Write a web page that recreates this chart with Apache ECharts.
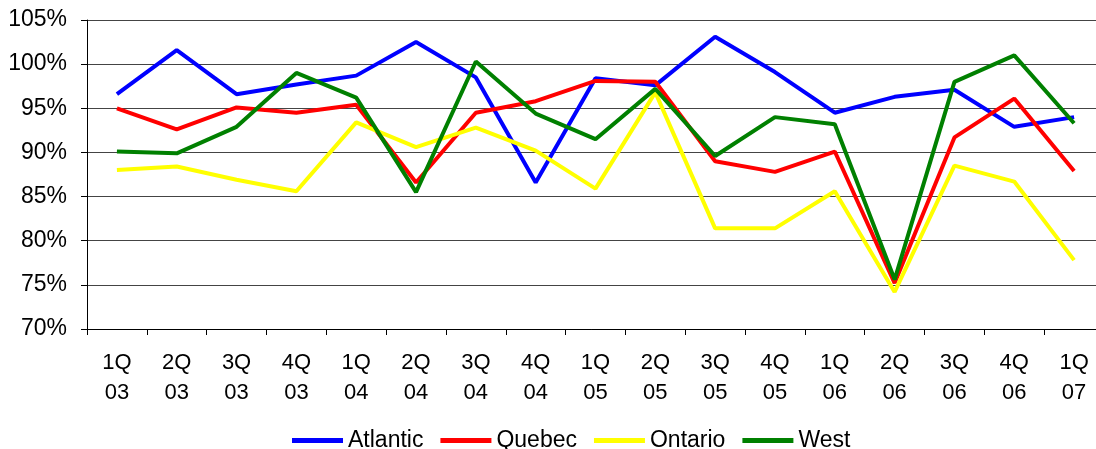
<!DOCTYPE html>
<html><head><meta charset="utf-8">
<script src="https://cdn.jsdelivr.net/npm/echarts@6/dist/echarts.min.js"></script>
<style>html,body{margin:0;padding:0;background:#fff}#c{width:1096px;height:449px}</style>
</head><body><div id="c"></div>
<script>
var categories = ['1Q\n03','2Q\n03','3Q\n03','4Q\n03','1Q\n04','2Q\n04','3Q\n04','4Q\n04','1Q\n05','2Q\n05','3Q\n05','4Q\n05','1Q\n06','2Q\n06','3Q\n06','4Q\n06','1Q\n07'];
var atlantic = [96.6,101.6,96.6,97.7,98.7,102.5,98.5,86.6,98.4,97.6,103.1,99.1,94.5,96.3,97.1,92.9,94.0];
var quebec   = [95.0,92.6,95.1,94.5,95.4,86.6,94.5,95.8,98.1,98.0,89.0,87.8,90.1,75.2,91.7,96.1,87.9];
var ontario  = [88.0,88.4,86.9,85.6,93.4,90.6,92.8,90.2,85.9,96.8,81.4,81.4,85.6,74.2,88.5,86.7,77.8];
var west     = [90.1,89.9,92.9,99.0,96.2,85.5,100.3,94.4,91.5,97.2,89.6,94.0,93.2,75.6,98.0,101.0,93.3];
var yTicks = {min:70, max:105, interval:5};

var font = 'Liberation Sans, Arial, sans-serif';
function s(name, data, color){
  return {name:name, type:'line', data:data, showSymbol:false, symbol:'none',
    lineStyle:{color:color, width:4}, itemStyle:{color:color}, animation:false};
}
var chart = echarts.init(document.getElementById('c'));
chart.setOption({
  animation:false,
  grid:{left:87, top:20, height:309, width:1017, containLabel:false, outerBoundsMode:'none'},
  legend:{top:424, left:287, icon:'rect', itemWidth:51, itemHeight:5, itemGap:17,
    textStyle:{fontFamily:font, fontSize:23, color:'#000'},
    data:['Atlantic','Quebec','Ontario','West']},
  xAxis:{type:'category', data:categories, boundaryGap:true,
    axisLine:{lineStyle:{color:'#000', width:1}},
    axisTick:{show:true, length:6, lineStyle:{color:'#000'}},
    axisLabel:{fontFamily:font, fontSize:22, color:'#000', margin:19, lineHeight:30, interval:0}},
  yAxis:{type:'value', min:yTicks.min, max:yTicks.max, interval:yTicks.interval,
    axisLine:{show:true, lineStyle:{color:'#000'}},
    axisTick:{show:true, length:6, lineStyle:{color:'#000'}},
    axisLabel:{fontFamily:font, fontSize:23, color:'#000', margin:20, formatter:'{value}%'},
    splitLine:{lineStyle:{color:'#444', width:1}}},
  series:[s('Atlantic',atlantic,'#0000ff'), s('Quebec',quebec,'#ff0000'), s('Ontario',ontario,'#ffff00'), s('West',west,'#008000')]
});
</script></body></html>
